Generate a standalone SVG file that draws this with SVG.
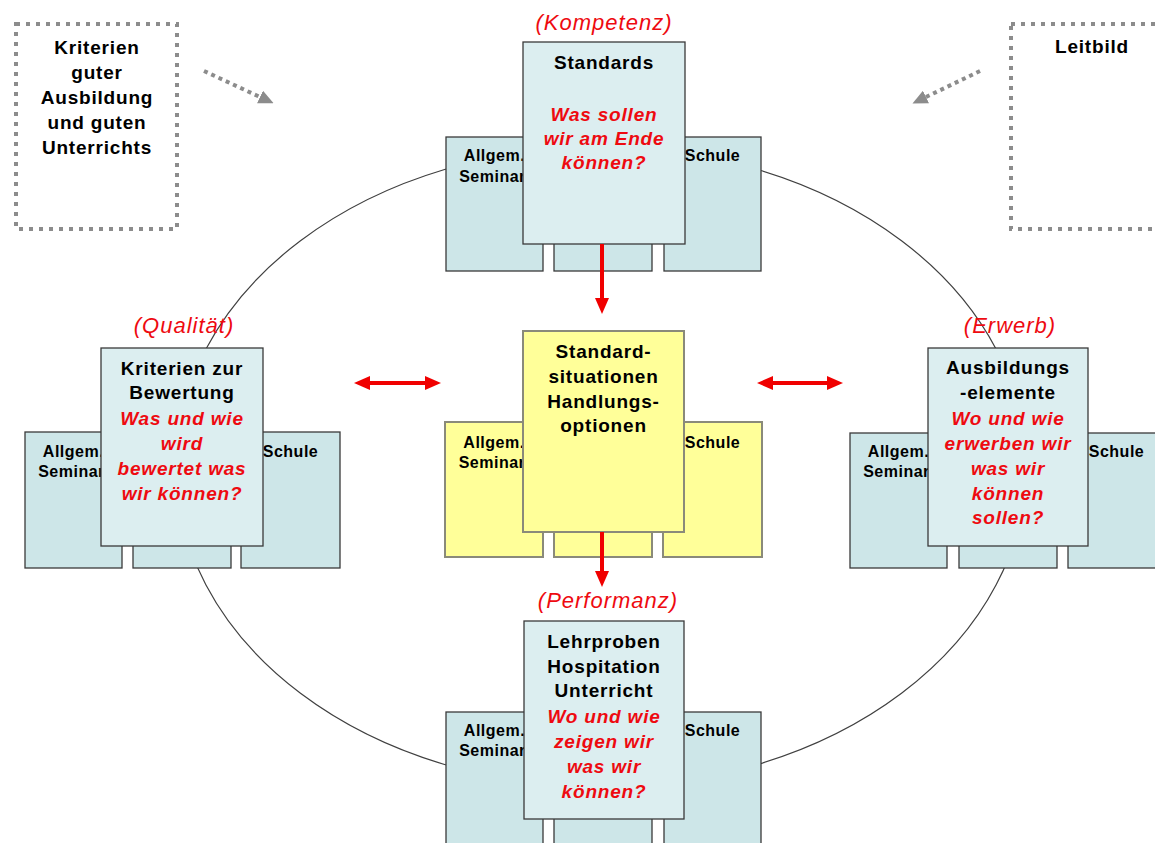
<svg xmlns="http://www.w3.org/2000/svg" width="1155" height="843" viewBox="0 0 1155 843">
<style>
.bk{fill:#CDE6E8;stroke:#3A3A3A;stroke-width:1.3}
.fr{fill:#DCEEF0;stroke:#3A3A3A;stroke-width:1.3}
.yb{fill:#FFFF99;stroke:#8A8A7A;stroke-width:2}
.dot{fill:none;stroke:#8C8C8C;stroke-width:4;stroke-dasharray:4 6}
.m{font-family:'Liberation Sans',Arial,sans-serif;font-weight:bold;font-size:19px;letter-spacing:0.8px;text-anchor:middle;fill:#000}
.r{font-family:'Liberation Sans',Arial,sans-serif;font-weight:bold;font-style:italic;font-size:19px;letter-spacing:0.8px;text-anchor:middle;fill:#EE0A10}
.k{font-family:'Liberation Sans',Arial,sans-serif;font-style:italic;font-size:22px;letter-spacing:1px;text-anchor:middle;fill:#EE0A10}
.s{font-family:'Liberation Sans',Arial,sans-serif;font-weight:bold;font-size:16px;letter-spacing:0.5px;text-anchor:middle;fill:#000}
.ra{fill:none;stroke:#F00000;stroke-width:4}
.ga{fill:none;stroke:#8C8C8C;stroke-width:4;stroke-dasharray:4 4}
</style>
<defs>
<marker id="rh" viewBox="0 0 16 14" refX="0" refY="7" markerWidth="16" markerHeight="14" markerUnits="userSpaceOnUse" orient="auto-start-reverse">
<path d="M0,0 L16,7 L0,14 z" fill="#F00000"/>
</marker>
<marker id="gh" viewBox="0 0 15 14" refX="0" refY="7" markerWidth="15" markerHeight="14" markerUnits="userSpaceOnUse" orient="auto">
<path d="M0,0 L15,7 L0,14 z" fill="#8C8C8C"/>
</marker>
</defs>
<rect width="1155" height="843" fill="#FFFFFF"/>
<g id="cycle">
<ellipse cx="601" cy="467" rx="425" ry="320" fill="none" stroke="#404040" stroke-width="1.2"/>
</g>
<g id="kriterien-box">
<rect class="dot" x="16" y="24" width="161" height="205"/>
<text class="m" x="97" y="54">Kriterien</text>
<text class="m" x="97" y="79">guter</text>
<text class="m" x="97" y="104">Ausbildung</text>
<text class="m" x="97" y="129">und guten</text>
<text class="m" x="97" y="154">Unterrichts</text>
</g>
<g id="leitbild-box">
<rect class="dot" x="1011" y="24" width="163" height="205"/>
<text class="m" x="1092" y="53">Leitbild</text>
</g>
<g id="standards">
<rect class="bk" x="446" y="137" width="97" height="134"/>
<rect class="bk" x="554" y="137" width="98" height="134"/>
<rect class="bk" x="664" y="137" width="97" height="134"/>
<text class="s" x="494.5" y="161">Allgem.</text>
<text class="s" x="492.5" y="182">Seminar</text>
<text class="s" x="712.5" y="161">Schule</text>
<rect class="fr" x="523" y="42" width="162" height="202"/>
<text class="k" x="604" y="30">(Kompetenz)</text>
<text class="m" x="604" y="69">Standards</text>
<text class="r" x="604" y="121">Was sollen</text>
<text class="r" x="604" y="145">wir am Ende</text>
<text class="r" x="604" y="169">können?</text>
</g>
<g id="kriterien-bewertung">
<rect class="bk" x="25" y="432" width="97" height="136"/>
<rect class="bk" x="133" y="432" width="98" height="136"/>
<rect class="bk" x="241" y="432" width="99" height="136"/>
<text class="s" x="73.5" y="457">Allgem.</text>
<text class="s" x="71.5" y="477">Seminar</text>
<text class="s" x="290.5" y="457">Schule</text>
<rect class="fr" x="101" y="348" width="162" height="198"/>
<text class="k" x="184" y="333">(Qualität)</text>
<text class="m" x="182" y="375">Kriterien zur</text>
<text class="m" x="182" y="399">Bewertung</text>
<text class="r" x="182" y="425">Was und wie</text>
<text class="r" x="182" y="450">wird</text>
<text class="r" x="182" y="475">bewertet was</text>
<text class="r" x="182" y="500">wir können?</text>
</g>
<g id="standardsituationen">
<rect class="yb" x="445" y="422" width="98" height="135"/>
<rect class="yb" x="554" y="422" width="98" height="135"/>
<rect class="yb" x="663" y="422" width="99" height="135"/>
<text class="s" x="494" y="448">Allgem.</text>
<text class="s" x="492" y="468">Seminar</text>
<text class="s" x="712.5" y="448">Schule</text>
<rect class="yb" x="523" y="331" width="161" height="201"/>
<text class="m" x="603.5" y="358">Standard-</text>
<text class="m" x="603.5" y="383">situationen</text>
<text class="m" x="603.5" y="408">Handlungs-</text>
<text class="m" x="603.5" y="432">optionen</text>
</g>
<g id="ausbildungselemente">
<rect class="bk" x="850" y="433" width="97" height="135"/>
<rect class="bk" x="959" y="433" width="98" height="135"/>
<rect class="bk" x="1068" y="433" width="97" height="135"/>
<text class="s" x="898.5" y="457">Allgem.</text>
<text class="s" x="896.5" y="477">Seminar</text>
<text class="s" x="1116.5" y="457">Schule</text>
<rect class="fr" x="928" y="348" width="160" height="198"/>
<text class="k" x="1010" y="333">(Erwerb)</text>
<text class="m" x="1008" y="374">Ausbildungs</text>
<text class="m" x="1008" y="399">-elemente</text>
<text class="r" x="1008" y="425">Wo und wie</text>
<text class="r" x="1008" y="450">erwerben wir</text>
<text class="r" x="1008" y="475">was wir</text>
<text class="r" x="1008" y="500">können</text>
<text class="r" x="1008" y="524">sollen?</text>
</g>
<g id="lehrproben">
<rect class="bk" x="446" y="712" width="97" height="140"/>
<rect class="bk" x="554" y="712" width="98" height="140"/>
<rect class="bk" x="664" y="712" width="97" height="140"/>
<text class="s" x="494.5" y="736">Allgem.</text>
<text class="s" x="492.5" y="756">Seminar</text>
<text class="s" x="712.5" y="736">Schule</text>
<rect class="fr" x="524" y="621" width="160" height="198"/>
<text class="k" x="608" y="608">(Performanz)</text>
<text class="m" x="604" y="648">Lehrproben</text>
<text class="m" x="604" y="673">Hospitation</text>
<text class="m" x="604" y="697">Unterricht</text>
<text class="r" x="604" y="723">Wo und wie</text>
<text class="r" x="604" y="748">zeigen wir</text>
<text class="r" x="604" y="773">was wir</text>
<text class="r" x="604" y="798">können?</text>
</g>
<g id="connectors">
<line class="ra" x1="602" y1="244" x2="602" y2="298" marker-end="url(#rh)"/>
<line class="ra" x1="602" y1="532" x2="602" y2="571" marker-end="url(#rh)"/>
<line class="ra" x1="370" y1="383" x2="425" y2="383" marker-start="url(#rh)" marker-end="url(#rh)"/>
<line class="ra" x1="773" y1="383" x2="827" y2="383" marker-start="url(#rh)" marker-end="url(#rh)"/>
<line class="ga" x1="204" y1="71" x2="260" y2="97" marker-end="url(#gh)"/>
<line class="ga" x1="980" y1="71" x2="926" y2="97" marker-end="url(#gh)"/>
</g>
</svg>
